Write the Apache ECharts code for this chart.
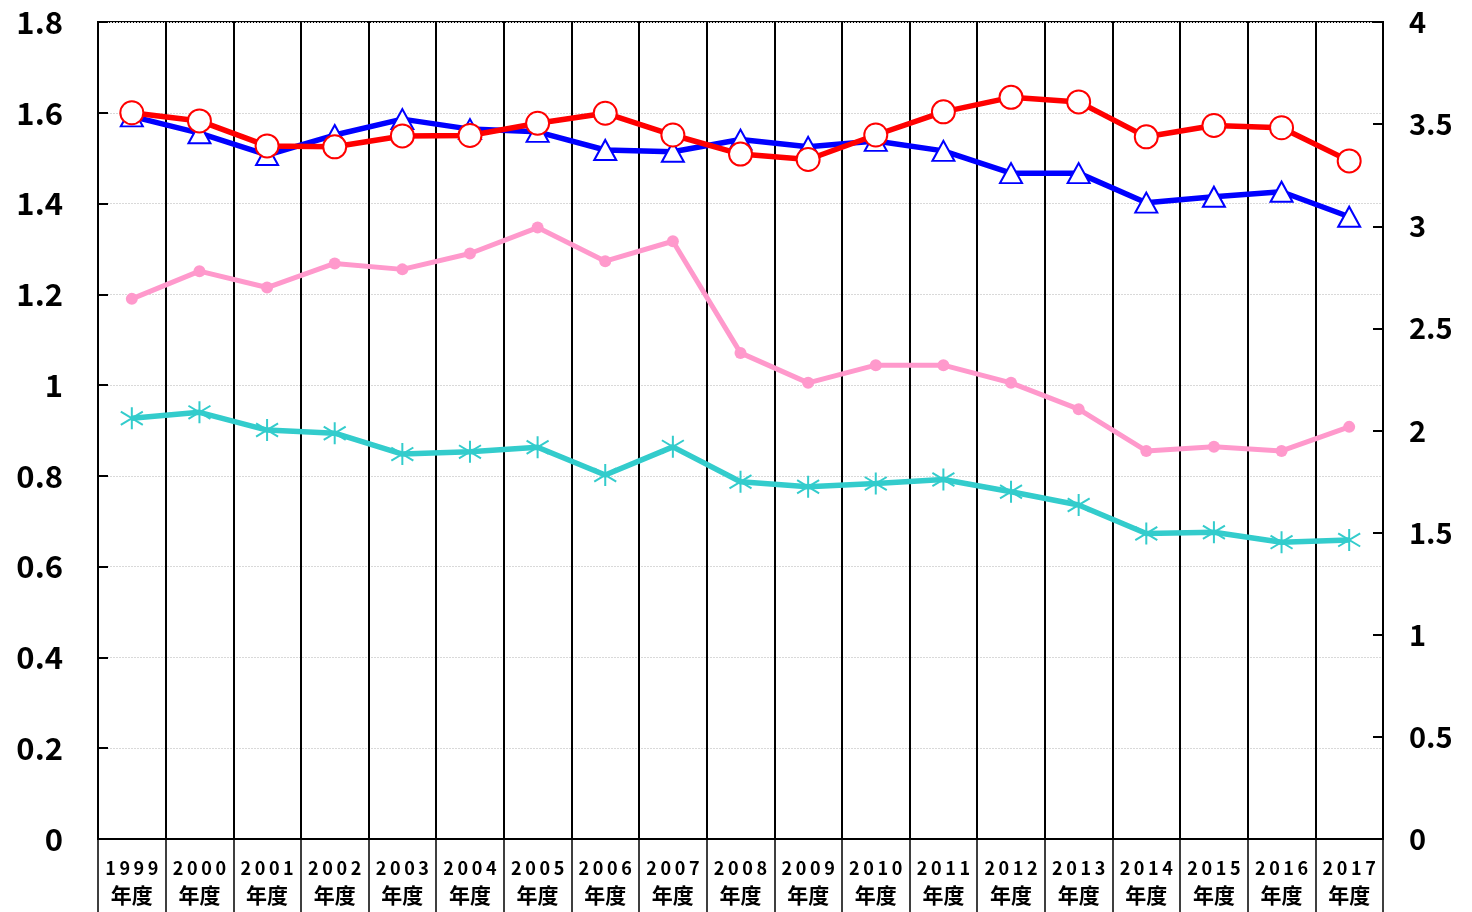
<!DOCTYPE html>
<html>
<head>
<meta charset="utf-8">
<script src="https://cdn.jsdelivr.net/npm/echarts@6/dist/echarts.min.js"></script>
<style>
html,body{margin:0;padding:0;background:#fff;}
#chart{width:1472px;height:912px;}
</style>
</head>
<body>
<div id="chart"></div>
<script>
const years = ['1999','2000','2001','2002','2003','2004','2005','2006','2007','2008','2009','2010','2011','2012','2013','2014','2015','2016','2017'];
const yearSuffix = '年度';
const redValues  = [1.600,1.582,1.527,1.525,1.549,1.550,1.577,1.599,1.551,1.509,1.497,1.551,1.602,1.634,1.624,1.547,1.572,1.567,1.494];
const blueValues = [1.592,1.555,1.507,1.551,1.586,1.564,1.558,1.518,1.514,1.541,1.525,1.538,1.516,1.467,1.467,1.402,1.415,1.426,1.371];
const pinkValues = [1.190,1.251,1.215,1.268,1.255,1.290,1.347,1.273,1.317,1.071,1.005,1.044,1.044,1.005,0.947,0.855,0.864,0.855,0.908];
const cyanValues = [0.927,0.940,0.901,0.894,0.848,0.853,0.863,0.802,0.864,0.787,0.776,0.783,0.792,0.765,0.736,0.673,0.676,0.654,0.659];
const leftAxisMax = 1.8, leftAxisStep = 0.2;
const rightAxisMax = 4, rightAxisStep = 0.5;

const chart = echarts.init(document.getElementById('chart'), null, {renderer:'canvas'});
const axisFont = '"Noto Sans CJK JP", "Noto Sans", sans-serif';
const asterisk = 'path://M10,0 L10,20 M0,4 L20,16 M0,16 L20,4';

chart.setOption({
  animation: false,
  backgroundColor: '#fff',
  grid: { left: 98, right: 89, top: 22, bottom: 73, show: true, borderColor: '#000', borderWidth: 2, backgroundColor: 'rgba(0,0,0,0)' },
  xAxis: {
    type: 'category',
    data: years,
    boundaryGap: true,
    position: 'bottom',
    axisLine: { show: true, lineStyle: { color: '#000', width: 2 } },
    axisTick: { show: true, interval: 0, length: 73, lineStyle: { color: '#000', width: 1.5 } },
    splitLine: { show: true, interval: 0, lineStyle: { color: '#000', width: 2 } },
    axisLabel: {
      interval: 0, margin: 16,
      fontFamily: axisFont, fontWeight: 'bold', color: '#000',
      formatter: v => '{y|' + v.split('').join('\u2009') + '}\n{s|' + yearSuffix + '}',
      rich: {
        y: { fontFamily: axisFont, fontWeight: 'bold', fontSize: 18, lineHeight: 27, color: '#000' },
        s: { fontFamily: axisFont, fontWeight: 'bold', fontSize: 21, lineHeight: 27, color: '#000' }
      }
    }
  },
  yAxis: [
    {
      type: 'value', min: 0, max: leftAxisMax, interval: leftAxisStep, position: 'left',
      axisLine: { show: true, lineStyle: { color: '#000', width: 2 } },
      axisTick: { show: true, inside: true, length: 10, lineStyle: { color: '#000', width: 2 } },
      splitLine: { show: true, lineStyle: { color: '#d9d9d9', width: 1, type: [2,1] } },
      axisLabel: { margin: 35, fontFamily: axisFont, fontWeight: 'bold', fontSize: 31, color: '#000',
        formatter: v => String(Math.round(v*10)/10) }
    },
    {
      type: 'value', min: 0, max: rightAxisMax, interval: rightAxisStep, position: 'right',
      axisLine: { show: true, lineStyle: { color: '#000', width: 2 } },
      axisTick: { show: true, inside: true, length: 10, lineStyle: { color: '#000', width: 2 } },
      splitLine: { show: false },
      axisLabel: { margin: 26, fontFamily: axisFont, fontWeight: 'bold', fontSize: 29, color: '#000',
        formatter: v => String(Math.round(v*10)/10) }
    }
  ],
  series: [
    {
      name: 'cyan', type: 'line', data: cyanValues, yAxisIndex: 0, z: 3,
      symbol: asterisk, symbolSize: 22, showAllSymbol: true,
      lineStyle: { color: '#33CCCC', width: 5.5 },
      itemStyle: { color: 'rgba(0,0,0,0)', borderColor: '#33CCCC', borderWidth: 2 }
    },
    {
      name: 'pink', type: 'line', data: pinkValues, yAxisIndex: 0, z: 3,
      symbol: 'circle', symbolSize: 12, showAllSymbol: true,
      lineStyle: { color: '#FF99CC', width: 5 },
      itemStyle: { color: '#FF99CC', borderWidth: 0 }
    },
    {
      name: 'blue', type: 'line', data: blueValues, yAxisIndex: 0, z: 4,
      symbol: 'triangle', symbolSize: [22, 20], showAllSymbol: true,
      lineStyle: { color: '#0000FF', width: 5.5 },
      itemStyle: { color: '#fff', borderColor: '#0000FF', borderWidth: 2 }
    },
    {
      name: 'red', type: 'line', data: redValues, yAxisIndex: 0, z: 5,
      symbol: 'circle', symbolSize: 23, showAllSymbol: true,
      lineStyle: { color: '#FF0000', width: 5.5 },
      itemStyle: { color: '#fff', borderColor: '#FF0000', borderWidth: 2 }
    }
  ]
});
</script>
</body>
</html>
